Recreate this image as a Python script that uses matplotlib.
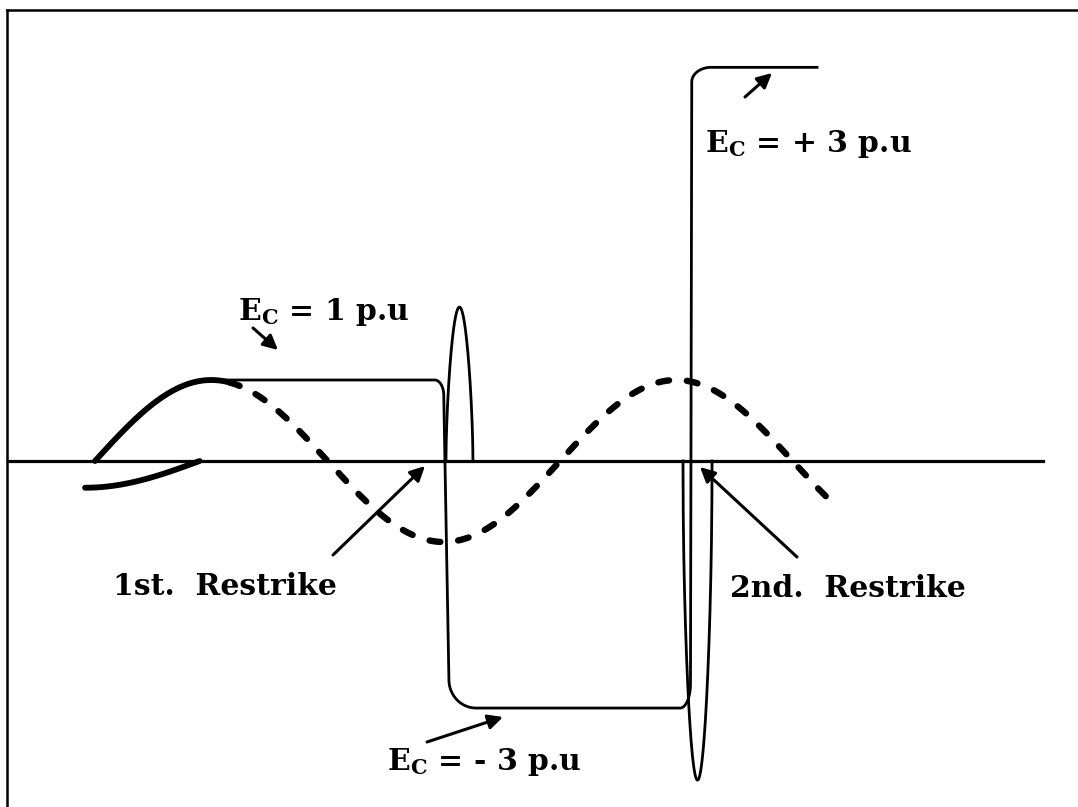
import numpy as np
import matplotlib
matplotlib.use("Agg")
import matplotlib.pyplot as plt
from matplotlib.lines import Line2D

plt.rcParams['font.family'] = ['DejaVu Serif']
plt.rcParams['font.weight'] = 'bold'
plt.rcParams['mathtext.fontset'] = 'custom'
plt.rcParams['mathtext.bf'] = 'DejaVu Serif:bold'
plt.rcParams['mathtext.rm'] = 'DejaVu Serif:bold'

# --- schematic data (angle in electrical degrees, voltage in drawn p.u.) ---
source_amp = 1.0
solid_end_deg = 104          # thick solid part of source wave
dashed_end_deg = 566
restrike_deg = [270, 461]    # 1st / 2nd restrike
hold_start_deg = 90
final_end_deg = 559
ec_levels = [1.0, -3.05, 4.86]   # drawn heights of Ec = 1, -3, +3 p.u
spike1 = (271.7, 292.6, 1.9)     # start, end, peak
spike2 = (455.2, 477.7, -3.94)
lead_curve = (-7.7, 81.0, -0.33)  # small curve below axis at the start

# pixel <-> data mapping of the drawing
X0, SX, Y0, SY = 95.0, 1.2917, 461.0, 81.0
W, H = 1078, 807


def px(x, y):
    return ((x - X0) / SX, (Y0 - y) / SY)


def corner(a, b, horizontal_first, n=30):
    t = np.linspace(0, np.pi / 2, n)
    (xa, ya), (xb, yb) = a, b
    if horizontal_first:
        return xa + (xb - xa) * np.sin(t), yb + (ya - yb) * np.cos(t)
    return xb + (xa - xb) * np.cos(t), ya + (yb - ya) * np.sin(t)


fig = plt.figure(figsize=(W / 100, H / 100), dpi=100)
ax = fig.add_axes([0, 0, 1, 1])
ax.set_xlim(px(0, 0)[0], px(W, 0)[0])
ax.set_ylim(px(0, H)[1], px(0, 0)[1])
ax.axis('off')

# frame (top and left only)
fig.add_artist(Line2D([7 / W, 7 / W], [0, 1 - 10 / H], color='black', lw=1.8))
fig.add_artist(Line2D([7 / W, 1], [1 - 10 / H, 1 - 10 / H], color='black', lw=1.8))

# horizontal axis
ax.plot([px(8, 0)[0], px(1043, 0)[0]], [0, 0], color='black', lw=2.3)

# source voltage
th = np.linspace(0, solid_end_deg, 200)
ax.plot(th, source_amp * np.sin(np.radians(th)), color='black', lw=4.2,
        solid_capstyle='round')
th = np.linspace(solid_end_deg, dashed_end_deg, 600)
ax.plot(th, source_amp * np.sin(np.radians(th)), color='black', lw=4.6,
        dashes=(1.7, 2.8), dash_capstyle='round')

# small curve below axis
a, b, v = lead_curve
th = np.linspace(a, b, 100)
ax.plot(th, v * np.cos(np.pi / 2 * (th - a) / (b - a)), color='black', lw=4.2,
        solid_capstyle='round')

# capacitor voltage (thin line with rounded corners)
r1, r2 = restrike_deg
l1, l2, l3 = ec_levels
xs, ys = [hold_start_deg, r1 - 7], [l1, l1]
cx, cy = corner((r1 - 7, l1), (r1, l1 - 0.19), True)
xs += list(cx); ys += list(cy)
cx, cy = corner((r1 + 4, l2 + 0.35), (r1 + 25, l2), False)
xs += list(cx); ys += list(cy)
xs += [r2 - 8]; ys += [l2]
cx, cy = corner((r2 - 8, l2), (r2, l2 + 0.3), True)
xs += list(cx); ys += list(cy)
cx, cy = corner((r2 + 1, l3 - 0.18), (r2 + 16, l3), False)
xs += list(cx); ys += list(cy)
xs += [final_end_deg]; ys += [l3]
ax.plot(xs, ys, color='black', lw=2.0)

# restrike spikes (rounded narrow pulses)
for (s0, s1, pk), p in ((spike1, 0.6), (spike2, 0.5)):
    th = np.linspace(s0, s1, 200)
    ax.plot(th, pk * np.sin(np.pi * (th - s0) / (s1 - s0)) ** p,
            color='black', lw=2.0)

# labels
fs = 21.5
labels = [
    (r"$\mathbf{E_C}$ = 1 p.u", (238, 320)),
    ("1st.  Restrike", (113, 595)),
    ("2nd.  Restrike", (730, 597)),
    (r"$\mathbf{E_C}$ = - 3 p.u", (387, 770)),
    (r"$\mathbf{E_C}$ = + 3 p.u", (705, 152)),
]
for txt, (x, y) in labels:
    ax.text(*px(x, y), txt, fontsize=fs, fontweight='bold', ha='left', va='baseline')

arrows = [
    ((253, 328), (278, 350)),
    ((333, 555), (425, 466)),
    ((797, 557), (700, 467)),
    ((427, 742), (503, 717)),
    ((745, 97), (772, 73)),
]
for tail, head in arrows:
    ax.annotate("", xy=px(*head), xytext=px(*tail),
                arrowprops=dict(arrowstyle='-|>', color='black', lw=2.2,
                                mutation_scale=22, shrinkA=0, shrinkB=0))

fig.savefig("out.png", dpi=100, facecolor='white')
